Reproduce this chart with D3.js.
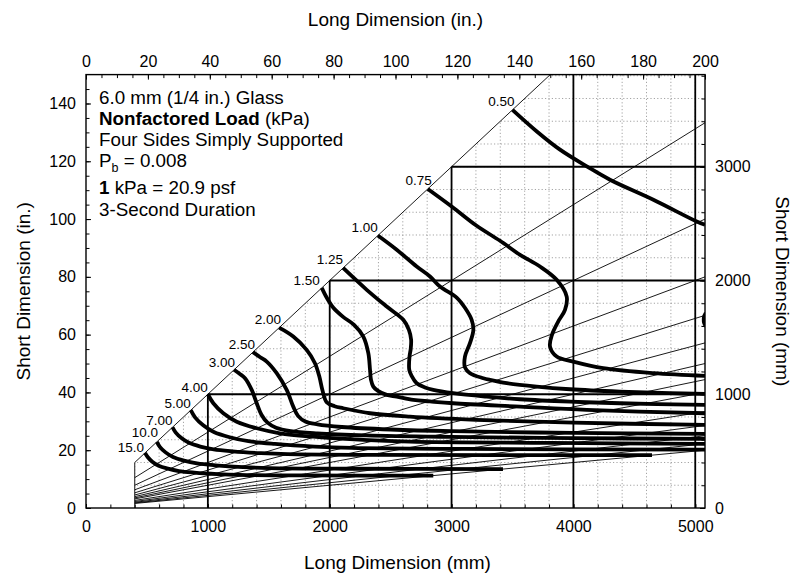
<!DOCTYPE html>
<html><head><meta charset="utf-8">
<script src="https://cdn.jsdelivr.net/npm/d3@7"></script>
<style>
body{margin:0;background:#fff;}
svg text{font-family:"Liberation Sans",Arial,Helvetica,sans-serif;fill:#000;}
</style></head><body>
<svg id="chart" width="792" height="575"></svg>
<script>
// Load contours for 6.0 mm glass, points as [long dimension mm, short dimension mm]
const loadLabels = ["0.50","0.75","1.00","1.25","1.50","2.00","2.50","3.00","4.00","5.00","7.00","10.0","15.0"];
const c050 = [[3500,3500],[3700,3310],[3890,3150],[4110,3003],[4300,2886],[4656,2710],[5012,2519],[5080,2490]];
const c075 = [[2805,2805],[3001,2651],[3206,2481],[3398,2349],[3562,2226],[3726,2123],[3863,2006],[3945,1859],[3931,1742],[3874,1637],[3824,1522],[3808,1419],[3863,1331],[3999,1287],[4245,1229],[4656,1185],[5080,1161]];
const c100 = [[2395,2395],[2550,2270],[2714,2123],[2823,2035],[2905,1947],[3042,1850],[3110,1760],[3165,1654],[3179,1566],[3151,1449],[3110,1331],[3110,1236],[3151,1185],[3261,1141],[3316,1126],[3453,1097],[3699,1067],[3972,1044],[4382,1023],[4793,1009],[5080,1003]];
const c125 = [[2110,2110],[2304,1918],[2468,1771],[2604,1654],[2650,1566],[2668,1480],[2665,1400],[2655,1331],[2653,1214],[2673,1161],[2714,1097],[2782,1060],[2850,1038],[3014,1009],[3288,979],[3562,956],[3972,935],[4382,921],[5080,906]];
const c150 = [[1935,1935],[1975,1850],[2030,1760],[2110,1680],[2200,1610],[2276,1507],[2317,1361],[2331,1214],[2339,1126],[2358,1067],[2396,1029],[2468,994],[2550,979],[2686,950],[2823,937],[3014,921],[3562,891],[4109,862],[5080,833]];
const c200 = [[1585,1585],[1701,1507],[1811,1390],[1879,1273],[1915,1155],[1940,1038],[1975,930],[2040,895],[2112,877],[2331,833],[2659,803],[3200,775],[4000,750],[5080,730]];
const c250 = [[1370,1370],[1430,1325],[1483,1287],[1565,1185],[1647,1038],[1701,891],[1740,810],[1800,760],[1900,735],[2100,712],[2500,690],[3000,675],[4000,660],[5080,651]];
const c300 = [[1215,1215],[1260,1180],[1305,1141],[1360,1038],[1401,921],[1440,820],[1490,750],[1560,705],[1680,675],[1900,655],[2300,638],[3000,625],[4000,614],[5080,607]];
const c400 = [[1000,1000],[1045,921],[1127,833],[1237,759],[1401,701],[1592,657],[1865,627],[2276,598],[2659,583],[3808,572],[5080,563]];
const c500 = [[860,860],[895,797],[962,727],[1049,668],[1179,622],[1333,587],[1550,563],[1875,540],[2180,528],[3100,519],[5080,513]];
const c700 = [[710,710],[735,665],[783,615],[845,573],[938,540],[1048,515],[1203,498],[1435,482],[1653,473],[2310,467],[4645,464.5]];
const c1000 = [[582,582],[606,538],[653,489],[714,448],[804,416],[911,392],[1063,375],[1290,359],[1502,351],[2144,345],[3422,342]];
const c1500 = [[485,485],[506,448],[544,407],[596,372],[672,346],[762,325],[889,311],[1080,298],[1258,291],[1797,286],[2850,285]];
const contours = [c050,c075,c100,c125,c150,c200,c250,c300,c400,c500,c700,c1000,c1500];
// small offsets [dx, dy] of each label from the start of its curve
const labelNudge = [[2,-3.5],[4,-4],[0,-3.5],[0,-4],[-2,-3],[2,-3.5],[2,-3.5],[1,-3],[0,-2],[0,-2],[0,-2.5],[1,-5],[-1,-1]];

// Aspect ratio rays (long / short)
const aspectRatios = [1,1.5,2,2.5,3,3.5,4,4.5,5,6,7,8,9,10];
const minDimension = 400;            // mm, smallest plate edge
const stubMark = [[5085,1715],[5070,1680],[5068,1655],[5070,1630],[5085,1595]];

// Axis ticks
const mmTicksX = [0,1000,2000,3000,4000,5000];
const inTicksX = [0,20,40,60,80,100,120,140,160,180,200];
const inTicksY = [0,20,40,60,80,100,120,140];
const mmTicksY = [0,1000,2000,3000];
const heavyX = [1000,2000,3000,4000,5000];
const heavyY = [1000,2000,3000];

const notes = ["6.0 mm (1/4 in.) Glass","Nonfactored Load","Four Sides Simply Supported","P","1","3-Second Duration"];

const L = 86, R = 705, T = 74.6, B = 508;
const xMax = 5080, yMax = 3810;

const svg = d3.select("#chart");
const x = d3.scaleLinear().domain([0, xMax]).range([L, R]);
const y = d3.scaleLinear().domain([0, yMax]).range([B, T]);
const xIn = d3.scaleLinear().domain([0, 200]).range([L, R]);
const yIn = d3.scaleLinear().domain([0, 150]).range([B, T]);

const defs = svg.append("defs");
defs.append("clipPath").attr("id","plotClip")
  .append("rect").attr("x",L).attr("y",T).attr("width",R-L).attr("height",B-T);
defs.append("clipPath").attr("id","gridClip")
  .append("polygon").attr("points", [[minDimension,0],[minDimension,minDimension],[yMax,yMax],[xMax,yMax],[xMax,0]]
     .map(p => [x(p[0]), y(p[1])].join(",")).join(" "));

// Fine dotted grid every 200 mm, only in the chart region
const grid = svg.append("g").attr("clip-path","url(#gridClip)")
  .attr("stroke","#9a9a9a").attr("stroke-width",0.9).attr("stroke-dasharray","1.2,2.2");
grid.selectAll("line.gx").data(d3.range(200, xMax, 200)).join("line")
  .attr("x1", d => x(d)).attr("x2", d => x(d)).attr("y1", B).attr("y2", T);
grid.selectAll("line.gy").data(d3.range(200, yMax, 200)).join("line")
  .attr("x1", L).attr("x2", R).attr("y1", d => y(d)).attr("y2", d => y(d));

const plot = svg.append("g").attr("clip-path","url(#plotClip)");

// Aspect ratio rays from the minimum dimension to the edge of the chart
plot.append("g").attr("stroke","#000").attr("stroke-width",0.9)
  .selectAll("line").data(aspectRatios).join("line")
  .attr("x1", () => x(minDimension))
  .attr("y1", a => y(minDimension / a))
  .attr("x2", a => x(Math.min(xMax, yMax * a)))
  .attr("y2", a => y(Math.min(xMax, yMax * a) / a));
plot.append("line").attr("stroke","#000").attr("stroke-width",0.9)
  .attr("x1", x(minDimension)).attr("x2", x(minDimension)).attr("y1", y(0)).attr("y2", y(minDimension));

// Heavy reference lines at each metre
const heavy = plot.append("g").attr("stroke","#000").attr("stroke-width",1.8);
heavy.selectAll("line.hx").data(heavyX).join("line")
  .attr("x1", d => x(d)).attr("x2", d => x(d)).attr("y1", y(0)).attr("y2", d => y(Math.min(d, yMax)));
heavy.selectAll("line.hy").data(heavyY).join("line")
  .attr("x1", d => x(d)).attr("x2", x(xMax)).attr("y1", d => y(d)).attr("y2", d => y(d));

// Load contours
const line = d3.line().x(d => x(d[0])).y(d => y(d[1])).curve(d3.curveCatmullRom.alpha(0.5));
plot.append("g").attr("fill","none").attr("stroke","#000").attr("stroke-width",3.8)
  .selectAll("path").data(contours).join("path").attr("d", line);
plot.append("path").datum(stubMark).attr("d", line)
  .attr("fill","none").attr("stroke","#000").attr("stroke-width",3.4);

// Contour labels at the square-plate end of each curve
svg.append("g").attr("font-size",13.5).attr("text-anchor","end")
  .selectAll("text").data(contours).join("text")
  .attr("x", (d, i) => x(d[0][0]) + labelNudge[i][0])
  .attr("y", (d, i) => y(d[0][1]) + labelNudge[i][1])
  .text((d, i) => loadLabels[i]);

// Frame
svg.append("rect").attr("x",L).attr("y",T).attr("width",R-L).attr("height",B-T)
  .attr("fill","none").attr("stroke","#000").attr("stroke-width",1.4);

// Axes
function styleAxis(g){
  g.select(".domain").remove();
  g.selectAll(".tick line").attr("stroke","#000").attr("stroke-width",1);
  g.selectAll(".tick text").attr("font-size",16).attr("font-family",'"Liberation Sans",Arial,sans-serif');
}
svg.append("g").attr("transform",`translate(0,${B})`)
  .call(d3.axisBottom(x).tickValues(mmTicksX).tickSize(-4).tickPadding(13).tickFormat(d3.format("d")))
  .call(styleAxis);
svg.append("g").attr("transform",`translate(0,${B})`)
  .call(d3.axisBottom(x).tickValues(d3.range(0, xMax, 200)).tickSize(-3.5).tickFormat(""))
  .call(styleAxis);
svg.append("g").attr("transform",`translate(0,${T})`)
  .call(d3.axisTop(xIn).tickValues(inTicksX).tickSize(-5).tickPadding(8).tickFormat(d3.format("d")))
  .call(styleAxis);
svg.append("g").attr("transform",`translate(0,${T})`)
  .call(d3.axisTop(xIn).tickValues(d3.range(0, 200, 5)).tickSize(-3.5).tickFormat(""))
  .call(styleAxis);
svg.append("g").attr("transform",`translate(${L},0)`)
  .call(d3.axisLeft(yIn).tickValues(inTicksY).tickSize(-5).tickPadding(10).tickFormat(d3.format("d")))
  .call(styleAxis);
svg.append("g").attr("transform",`translate(${L},0)`)
  .call(d3.axisLeft(yIn).tickValues(d3.range(0, 150, 5)).tickSize(-3.5).tickFormat(""))
  .call(styleAxis);
svg.append("g").attr("transform",`translate(${R},0)`)
  .call(d3.axisRight(y).tickValues(mmTicksY).tickSize(-5).tickPadding(10).tickFormat(d3.format("d")))
  .call(styleAxis);
svg.append("g").attr("transform",`translate(${R},0)`)
  .call(d3.axisRight(y).tickValues(d3.range(0, yMax, 200)).tickSize(-3.5).tickFormat(""))
  .call(styleAxis);

// Axis titles
svg.append("text").attr("x",(L+R)/2).attr("y",26).attr("text-anchor","middle").attr("font-size",19).text("Long Dimension (in.)");
svg.append("text").attr("x",(L+R)/2 + 2).attr("y",569).attr("text-anchor","middle").attr("font-size",19).text("Long Dimension (mm)");
svg.append("text").attr("transform",`translate(30,${(T+B)/2}) rotate(-90)`).attr("text-anchor","middle").attr("font-size",19).text("Short Dimension (in.)");
svg.append("text").attr("transform",`translate(776,${(T+B)/2}) rotate(90)`).attr("text-anchor","middle").attr("font-size",19).text("Short Dimension (mm)");

// Notes block
const nx = 99, fs = 18.8;
const nt = svg.append("g").attr("font-size", fs);
nt.append("text").attr("x",nx).attr("y",104).text(notes[0]);
const t2 = nt.append("text").attr("x",nx).attr("y",125);
t2.append("tspan").attr("font-weight","bold").text(notes[1]);
t2.append("tspan").text(" (kPa)");
nt.append("text").attr("x",nx).attr("y",146).text(notes[2]);
const t4 = nt.append("text").attr("x",nx).attr("y",167);
t4.append("tspan").text(notes[3]);
t4.append("tspan").attr("font-size",12.5).attr("dy",4.5).text("b");
t4.append("tspan").attr("dy",-4.5).text(" = 0.008");
const t5 = nt.append("text").attr("x",nx).attr("y",194);
t5.append("tspan").attr("font-weight","bold").text(notes[4]);
t5.append("tspan").text(" kPa = 20.9 psf");
nt.append("text").attr("x",nx).attr("y",215.5).text(notes[5]);
</script>
</body></html>
